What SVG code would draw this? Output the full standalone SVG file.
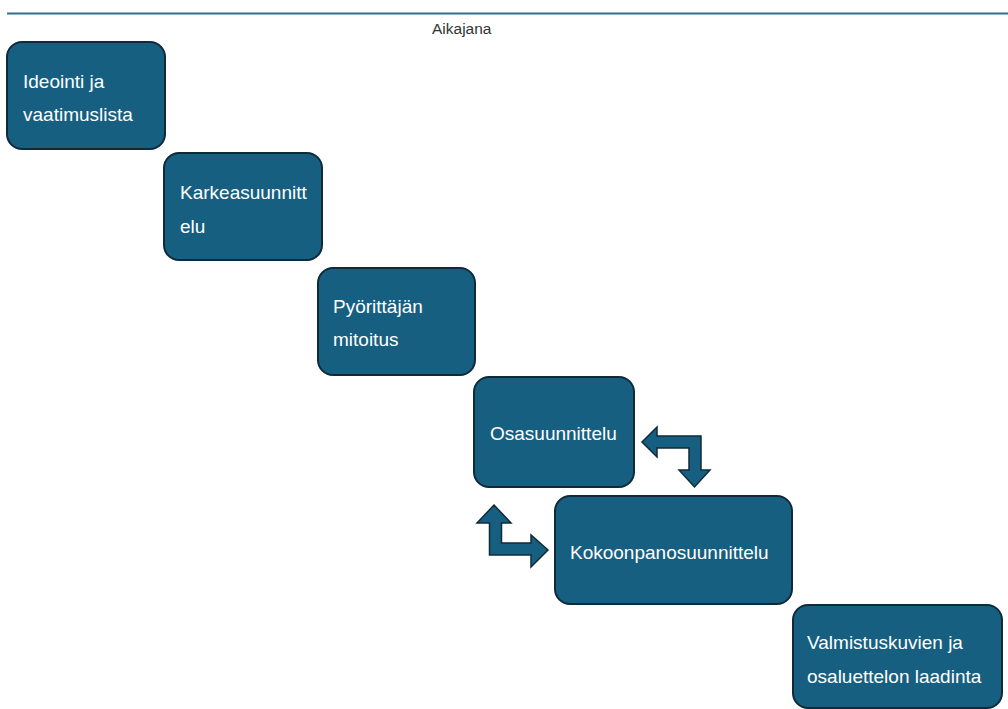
<svg xmlns="http://www.w3.org/2000/svg" width="1008" height="709" viewBox="0 0 1008 709">
<style>
.box{fill:#175f80;stroke:#0f2b3a;stroke-width:2}
.lbl{font-family:"Liberation Sans",Arial,sans-serif;font-size:19px;fill:#ffffff}
.arr{fill:#175f80;stroke:#0f2b3a;stroke-width:1.5;stroke-linejoin:miter}
</style>
<rect width="1008" height="709" fill="#ffffff"/>
<g id="timeline">
<line x1="7" y1="13.5" x2="1008" y2="13.5" stroke="#2f6f8f" stroke-width="2"/>
<text x="432" y="33.5" font-family="'Liberation Sans',Arial,sans-serif" font-size="15.5" fill="#333333">Aikajana</text>
</g>
<g id="n1"><rect class="box" x="7" y="42" width="158" height="107" rx="15"/>
<text class="lbl" x="23" y="87.5">Ideointi ja</text><text class="lbl" x="23" y="120.5">vaatimuslista</text></g>
<g id="n2"><rect class="box" x="164" y="153" width="158" height="107" rx="15"/>
<text class="lbl" x="180" y="198.5">Karkeasuunnitt</text><text class="lbl" x="180" y="232.5">elu</text></g>
<g id="n3"><rect class="box" x="318" y="268" width="157" height="107" rx="15"/>
<text class="lbl" x="333" y="312.5">Pyörittäjän</text><text class="lbl" x="333" y="346">mitoitus</text></g>
<g id="n4"><rect class="box" x="474" y="377" width="160" height="110" rx="15"/>
<text class="lbl" x="490" y="439.5">Osasuunnittelu</text></g>
<g id="n5"><rect class="box" x="555" y="496" width="237" height="108" rx="15"/>
<text class="lbl" x="570" y="558.5">Kokoonpanosuunnittelu</text></g>
<g id="n6"><rect class="box" x="793" y="605" width="209" height="103" rx="15"/>
<text class="lbl" x="807" y="648.5">Valmistuskuvien ja</text><text class="lbl" x="807" y="682.5">osaluettelon laadinta</text></g>
<g id="connectors">
<path class="arr" d="M642,442 L657,427 L657,436 L701,436 L701,470 L710,470 L694.5,487 L679,470 L689,470 L689,448 L657,448 L657,457 Z"/>
<path class="arr" d="M494,505 L511,523 L501.5,523 L501.5,543 L531,543 L531,535 L548,550 L531,567 L531,555 L489.5,555 L489.5,523 L477,523 Z"/>
</g>
</svg>
